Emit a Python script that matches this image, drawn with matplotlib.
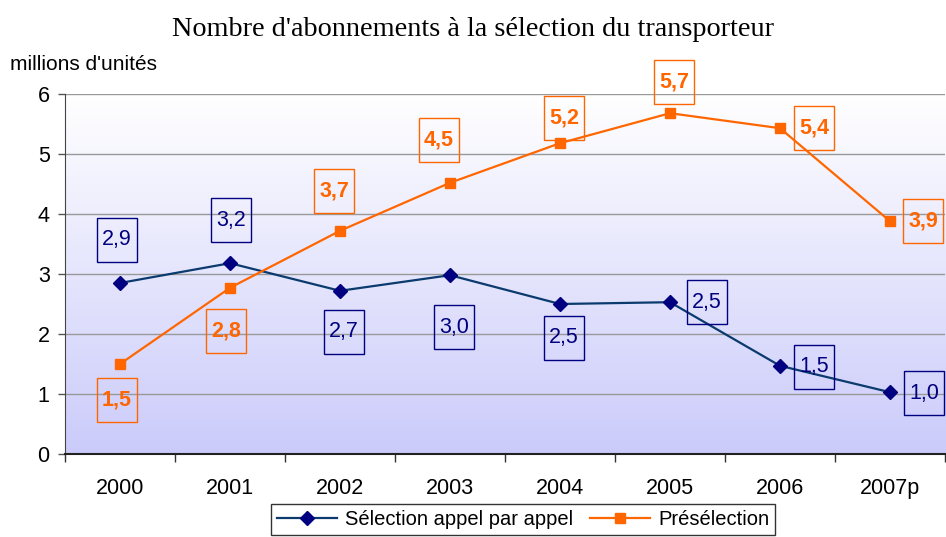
import numpy as np
import matplotlib
matplotlib.use("Agg")
import matplotlib.pyplot as plt
import matplotlib.transforms as mtransforms
from matplotlib.colors import LinearSegmentedColormap
from matplotlib.patches import Rectangle

# Data
years = ["2000", "2001", "2002", "2003", "2004", "2005", "2006", "2007p"]
appel = [2.85, 3.18, 2.72, 2.98, 2.50, 2.53, 1.47, 1.03]
appel_labels = ["2,9", "3,2", "2,7", "3,0", "2,5", "2,5", "1,5", "1,0"]
presel = [1.50, 2.77, 3.72, 4.52, 5.18, 5.68, 5.43, 3.88]
presel_labels = ["1,5", "2,8", "3,7", "4,5", "5,2", "5,7", "5,4", "3,9"]

# label box offsets from the point, in pixels
appel_off = [(-3, 43), (1, 43), (4, -41), (4, -52), (4, -34), (37, 0), (34, -1), (34, -1)]
presel_off = [(-3, -36), (-4, -43), (-6, 40), (-11, 43), (4, 25), (4, 31), (34, 0), (33, 0)]

navy = "#000080"
orange = "#FF6600"
line_blue = "#0B3a6e"

plt.rcParams['font.family'] = ['Liberation Sans', 'DejaVu Sans']

fig = plt.figure(figsize=(9.46, 5.37), dpi=100)
ax = fig.add_axes([65 / 946, 83 / 537, 880 / 946, 360 / 537])
ax.set_facecolor("none")

# gradient background
cmap = LinearSegmentedColormap.from_list("bg", ["#CBCBFB", "#FFFFFF"])
grad = np.linspace(0, 1, 256).reshape(-1, 1)
ax.imshow(grad, extent=[0, 1, 0, 1], transform=ax.transAxes, aspect="auto",
          cmap=cmap, origin="lower", zorder=0)

x = np.arange(len(years))
ax.plot(x, appel, color=line_blue, lw=1.6, marker="D", ms=7.5, mfc=navy, mec=navy,
        label="Sélection appel par appel", zorder=3)
ax.plot(x, presel, color=orange, lw=1.6, marker="s", ms=7.5, mfc=orange, mec=orange,
        label="Présélection", zorder=3)


def boxed(xi, yi, txt, off, color, weight):
    ax.annotate(txt, (xi, yi), xytext=off, textcoords="offset pixels",
                ha="center", va="center", fontsize=15.5, color=color,
                fontweight=weight, zorder=5, annotation_clip=False)
    tr = mtransforms.ScaledTranslation(xi, yi, ax.transData)
    rect = Rectangle((off[0] - 20, off[1] - 22), 40, 44, transform=tr,
                     fill=False, edgecolor=color, lw=1.0, zorder=4, clip_on=False)
    fig.add_artist(rect)


for i in range(len(years)):
    boxed(x[i], appel[i], appel_labels[i], appel_off[i], navy, "normal")
    boxed(x[i], presel[i], presel_labels[i], presel_off[i], orange, "bold")

ax.set_xlim(-0.5, len(years) - 0.5)
ax.set_ylim(0, 6)
ax.set_yticks(range(0, 7))
ax.yaxis.grid(True, color="#999999", lw=1.0)
for gl in ax.get_ygridlines():
    gl.set_zorder(1)

ax.set_xticks(x)
ax.set_xticklabels(years)
ax.set_xticks(np.arange(-0.5, len(years)), minor=True)
ax.tick_params(axis="x", which="major", length=0, pad=17, labelsize=15.5)
ax.tick_params(axis="x", which="minor", length=6, width=1, color="#333333", direction="out")
ax.tick_params(axis="y", length=5, width=1, color="#555555", labelsize=15.5, pad=6)

for s in ["top", "right"]:
    ax.spines[s].set_visible(False)
ax.spines["left"].set_color("#444444")
ax.spines["bottom"].set_color("#222222")
ax.spines["bottom"].set_linewidth(1.5)

fig.text(0.5, 1 - 29 / 537, "Nombre d'abonnements à la sélection du transporteur",
         ha="center", va="center", fontsize=20.3, family="Liberation Serif")
fig.text(10 / 946, 1 - 65 / 537, "millions d'unités", ha="left", va="center", fontsize=15)

leg = fig.legend(loc="upper center", bbox_to_anchor=(523 / 946, 1 - 504 / 537),
                 ncol=2, frameon=True, fancybox=False, fontsize=14.5,
                 handlelength=3.0, columnspacing=0.8, handletextpad=0.4,
                 borderpad=0.3, borderaxespad=0)
leg.get_frame().set_edgecolor("black")
leg.get_frame().set_linewidth(1.0)

fig.savefig("out.png", dpi=100)
